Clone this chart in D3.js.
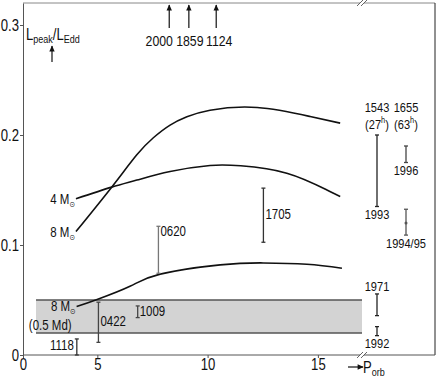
<!DOCTYPE html>
<html>
<head>
<meta charset="utf-8">
<script src="https://cdn.jsdelivr.net/npm/d3@7"></script>
<style>
  html, body { margin: 0; padding: 0; background: #fff; }
  svg text { font-family: "Liberation Sans", Arial, sans-serif; fill: #111; }
</style>
</head>
<body>
<div id="chart"></div>
<script>
// axis ticks
var xTicks = [5, 10, 15];
var yTicks = [0, 0.1, 0.2, 0.3];

// model curves: [P_orb (h), L_peak/L_Edd]
var curve4M = [[4.03, 0.142], [5.65, 0.1526], [6.79, 0.159], [8.30, 0.1668], [10.11, 0.1723], [11.5, 0.172], [13.59, 0.1653], [15.41, 0.150], [16.01, 0.144]];
var curve8M = [[4.03, 0.1122], [5.65, 0.1526], [6.79, 0.1820], [7.54, 0.1975], [8.30, 0.2090], [9.06, 0.2165], [10.11, 0.2225], [12.25, 0.2250], [14.65, 0.2168], [16.01, 0.2108]];
var curve8Mhalf = [[4.06, 0.044], [4.99, 0.0505], [6.48, 0.0625], [7.85, 0.0735], [10.57, 0.0819], [12.52, 0.0837], [14.5, 0.0825], [16.09, 0.0789]];

// shaded band
var bandP = [2.22, 17];
var bandL = [0.02, 0.05];

// short-period sources
var srcNames = ["1118", "0422", "1009", "0620", "1705"];
var srcPorb = [4.07, 5.05, 6.83, 7.77, 12.53];
var srcLo = [0.0, 0.0115, 0.034, 0.0743, 0.1025];
var srcHi = [0.0146, 0.048, 0.0446, 0.117, 0.1517];

// sources above the plot (arrows)
var arrowNames = ["2000", "1859", "1124"];
var arrowPorb = [8.26, 9.15, 10.39];

// long-period sources (right of axis break)
var rightSources = ["1543", "1655"];
var rightPeriods = ["27", "63"];
var obsNames = ["1993", "1971", "1992", "1996", "1994/95"];
var obsSource = ["1543", "1543", "1543", "1655", "1655"];
var obsLo = [0.135, 0.0358, 0.0176, 0.175, 0.109];
var obsHi = [0.200, 0.0555, 0.0258, 0.190, 0.1325];
var obsMid = [null, null, null, null, 0.12];

var width = 437, height = 377;
var pLeft = 23, pRight = 435, pTop = 3, pBottom = 355, breakX = 362;
var xMin = 1.63, xBreak = 17;
var squeeze = 0.82; // narrow type

var x = d3.scaleLinear().domain([xMin, xBreak]).range([pLeft, breakX]);
var y = d3.scaleLinear().domain([0, 0.32]).range([pBottom, pTop]);
var xr = d3.scalePoint().domain(rightSources).range([377, 406]);

var svg = d3.select("#chart").append("svg")
    .attr("width", width)
    .attr("height", height);

svg.append("defs").append("marker")
    .attr("id", "head")
    .attr("viewBox", "0 0 10 10")
    .attr("refX", 9).attr("refY", 5)
    .attr("markerWidth", 8).attr("markerHeight", 6)
    .attr("markerUnits", "userSpaceOnUse")
    .attr("orient", "auto")
  .append("path")
    .attr("d", "M0,0.5 L10,5 L0,9.5 z")
    .attr("fill", "#111");

// narrow text helper
function label(px, py, anchor, size) {
  return svg.append("text")
      .attr("transform", "translate(" + px + "," + py + ") scale(" + squeeze + ",1)")
      .attr("text-anchor", anchor)
      .attr("font-size", size);
}

// gray band
svg.append("rect")
    .attr("x", x(bandP[0]))
    .attr("y", y(bandL[1]))
    .attr("width", x(bandP[1]) - x(bandP[0]))
    .attr("height", y(bandL[0]) - y(bandL[1]))
    .attr("fill", "#d3d3d3");
bandL.forEach(function(v) {
  svg.append("line")
      .attr("x1", x(bandP[0])).attr("x2", x(bandP[1]))
      .attr("y1", y(v)).attr("y2", y(v))
      .attr("stroke", "#555").attr("stroke-width", 1.3);
});

// frame
var frame = svg.append("g").attr("stroke", "#555").attr("fill", "none");
frame.append("line").attr("x1", pLeft).attr("x2", pRight).attr("y1", pTop).attr("y2", pTop).attr("stroke", "#888");
frame.append("line").attr("x1", pRight).attr("x2", pRight).attr("y1", pTop).attr("y2", pBottom).attr("stroke", "#222");
frame.append("line").attr("x1", pLeft).attr("x2", pRight).attr("y1", pBottom).attr("y2", pBottom);

// axis break marks
[pTop, pBottom].forEach(function(yy) {
  svg.append("rect").attr("x", breakX - 2).attr("y", yy - 1).attr("width", 4).attr("height", 2).attr("fill", "#fff");
  [-2, 2].forEach(function(dx) {
    svg.append("line")
        .attr("x1", breakX + dx - 3).attr("y1", yy + 3)
        .attr("x2", breakX + dx + 3).attr("y2", yy - 3)
        .attr("stroke", "#555").attr("stroke-width", 0.9);
  });
});

// axes
var yAxis = svg.append("g")
    .attr("transform", "translate(" + pLeft + ",0)")
    .call(d3.axisLeft(y).tickValues(yTicks).tickSize(3).tickSizeOuter(0)
      .tickFormat(function(d) { return d === 0 ? "0" : d3.format(".1f")(d); }));
yAxis.select(".domain").attr("stroke", "#555");
yAxis.selectAll(".tick line").attr("stroke", "#555");
yAxis.selectAll(".tick text")
    .attr("x", -4 / squeeze)
    .attr("transform", "scale(" + squeeze + ",1)")
    .attr("font-size", 16)
    .attr("font-family", "Liberation Sans, Arial, sans-serif")
    .attr("fill", "#111");

var xAxis = svg.append("g")
    .attr("transform", "translate(0," + pBottom + ")")
    .call(d3.axisBottom(x).tickValues([xMin].concat(xTicks)).tickSize(3).tickSizeOuter(0)
      .tickFormat(function(d) { return d === xMin ? "0" : d; }));
xAxis.select(".domain").remove();
xAxis.selectAll(".tick line").attr("stroke", "#555");
xAxis.selectAll(".tick text")
    .attr("y", 4)
    .attr("transform", "scale(" + squeeze + ",1)")
    .attr("font-size", 16)
    .attr("font-family", "Liberation Sans, Arial, sans-serif")
    .attr("fill", "#111");

// curves
var line = d3.line()
    .x(function(d) { return x(d[0]); })
    .y(function(d) { return y(d[1]); })
    .curve(d3.curveNatural);

[curve4M, curve8M, curve8Mhalf].forEach(function(c) {
  svg.append("path")
      .datum(c)
      .attr("d", line)
      .attr("fill", "none")
      .attr("stroke", "#111")
      .attr("stroke-width", 1.6);
});

function addMass(pt, num, dy) {
  var t = label(x(pt[0]) - 1, y(pt[1]) + dy, "end", 14);
  t.append("tspan").text(num + " M");
  t.append("tspan").attr("font-size", 8).attr("dy", 3).attr("font-family", "DejaVu Sans").text("\u2299");
  return t;
}
addMass(curve4M[0], 4, 5);
addMass(curve8M[0], 8, 5);
addMass(curve8Mhalf[0], 8, 4);
label(x(curve8Mhalf[0][0]) - 5, y(curve8Mhalf[0][1]) + 23, "end", 14).text("(0.5 Md)");

// error bars
function errBar(px, lo, hi, color, mid) {
  var g = svg.append("g").attr("stroke", color).attr("stroke-width", 1.3);
  g.append("line").attr("x1", px).attr("x2", px).attr("y1", y(lo)).attr("y2", y(hi));
  [lo, hi].forEach(function(v) {
    g.append("line").attr("x1", px - 2).attr("x2", px + 2).attr("y1", y(v)).attr("y2", y(v));
  });
  if (mid != null) {
    g.append("circle").attr("cx", px).attr("cy", y(mid)).attr("r", 1.5).attr("fill", color).attr("stroke", "none");
  }
}

var srcColor = { "1118": "#333", "0422": "#444", "1009": "#444", "0620": "#777", "1705": "#333" };
// label anchor: side, reference (top/mid), baseline offset
var srcLabel = {
  "1118": ["left", "mid", 3],
  "0422": ["right", "mid", 4],
  "1009": ["right", "mid", 4],
  "0620": ["right", "top", 10],
  "1705": ["right", "mid", 4]
};

srcNames.forEach(function(n, i) {
  var px = x(srcPorb[i]);
  errBar(px, srcLo[i], srcHi[i], srcColor[n]);
  var L = srcLabel[n];
  var yy = L[1] === "top" ? y(srcHi[i]) : (y(srcHi[i]) + y(srcLo[i])) / 2;
  label(L[0] === "left" ? px - 3 : px + 2, yy + L[2], L[0] === "left" ? "end" : "start", 14).text(n);
});

// arrows at top; labels nudged apart so they do not collide
var arrowLabelShift = { "2000": -10, "1859": 1, "1124": 3 };
arrowNames.forEach(function(n, i) {
  var px = x(arrowPorb[i]);
  svg.append("line")
      .attr("x1", px).attr("x2", px)
      .attr("y1", 28).attr("y2", 5)
      .attr("stroke", "#111").attr("stroke-width", 1.2)
      .attr("marker-end", "url(#head)");
  label(px + arrowLabelShift[n], 46, "middle", 15).text(n);
});

// right panel
rightSources.forEach(function(n, i) {
  label(xr(n), 112, "middle", 13.5).text(n);
  var t = label(xr(n), 129, "middle", 13.5);
  t.append("tspan").text("(" + rightPeriods[i]);
  t.append("tspan").attr("font-size", 9).attr("dy", -6).text("h");
  t.append("tspan").attr("dy", 6).text(")");
});

var obsColor = { "1993": "#222", "1971": "#222", "1992": "#222", "1996": "#444", "1994/95": "#555" };
var obsBelow = { "1993": true, "1971": false, "1992": true, "1996": true, "1994/95": true };

obsNames.forEach(function(n, i) {
  var px = xr(obsSource[i]);
  errBar(px, obsLo[i], obsHi[i], obsColor[n], obsMid[i]);
  label(px, obsBelow[n] ? y(obsLo[i]) + 12.5 : y(obsHi[i]) - 3, "middle", 13.5).text(n);
});

// axis titles
var yt = label(26, 40, "start", 16);
yt.append("tspan").text("L");
yt.append("tspan").attr("font-size", 11).attr("dy", 3).text("peak");
yt.append("tspan").attr("dy", -3).text("/L");
yt.append("tspan").attr("font-size", 11).attr("dy", 3).text("Edd");
svg.append("line")
    .attr("x1", 52).attr("x2", 52).attr("y1", 62).attr("y2", 46)
    .attr("stroke", "#111").attr("stroke-width", 1.2)
    .attr("marker-end", "url(#head)");

svg.append("line")
    .attr("x1", 348).attr("x2", 363).attr("y1", 367).attr("y2", 367)
    .attr("stroke", "#111").attr("stroke-width", 1.2)
    .attr("marker-end", "url(#head)");
var xt = label(363, 373, "start", 16);
xt.append("tspan").text("P");
xt.append("tspan").attr("font-size", 11).attr("dy", 3).text("orb");
</script>
</body>
</html>
